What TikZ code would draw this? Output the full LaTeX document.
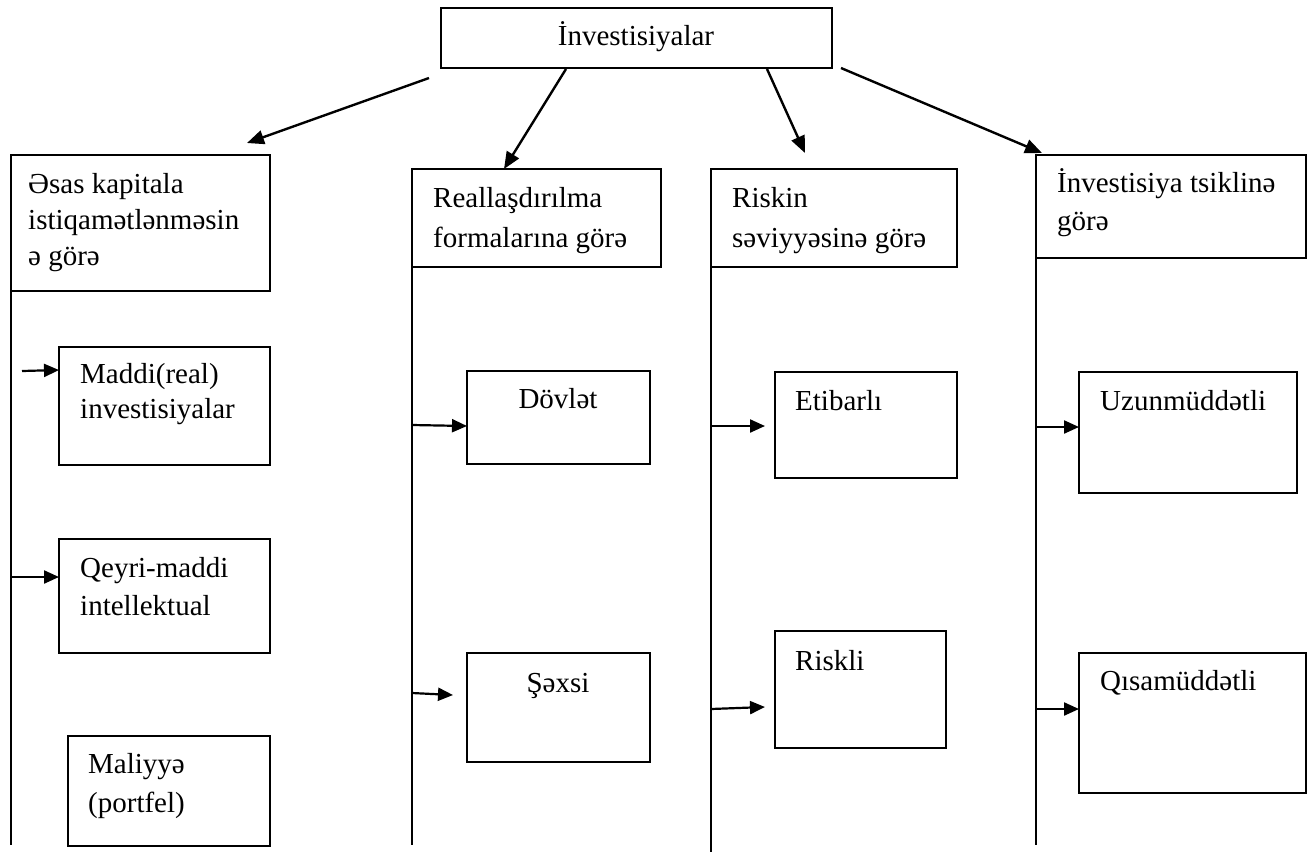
\documentclass[tikz,border=0pt]{standalone}
\usepackage{fontspec}
\setmainfont{Liberation Serif}
\usetikzlibrary{arrows.meta}
\tikzset{
  box/.style={draw, line width=1.8pt},
  txt/.style={inner sep=0pt, anchor=base west, align=left, font=\fontsize{29}{38}\selectfont},
  link/.style={line width=1.8pt},
  arr/.style={line width=2.4pt, -{Triangle[length=17pt,width=14pt]}},
  sarr/.style={line width=2.2pt, -{Triangle[length=15pt,width=13pt]}}
}
\begin{document}
\begin{tikzpicture}[x=1pt,y=-1pt]
\useasboundingbox (0,0) rectangle (1308,852);
% boxes
\draw[box] (441,8) rectangle (832,68);
\node[inner sep=0pt, anchor=base, font=\fontsize{29}{38}\selectfont] (top) at (636,45) {İnvestisiyalar};
\draw[box] (11,155) rectangle (270,291);
\draw[box] (412,169) rectangle (661,267);
\draw[box] (711,169) rectangle (957,267);
\draw[box] (1036,155) rectangle (1306,258);
\draw[box] (59,347) rectangle (270,465);
\draw[box] (59,539) rectangle (270,653);
\draw[box] (68,736) rectangle (270,846);
\draw[box] (467,371) rectangle (650,464);
\draw[box] (467,653) rectangle (650,762);
\draw[box] (775,372) rectangle (957,478);
\draw[box] (775,631) rectangle (946,748);
\draw[box] (1079,372) rectangle (1297,493);
\draw[box] (1079,653) rectangle (1306,793);
% texts (multi-line nodes are placed at the baseline of their last line)
\node[txt, font=\fontsize{29}{36}\selectfont] (t1) at (28,265) {Əsas kapitala\\istiqamətlənməsin\\ə görə};
\node[txt, font=\fontsize{29}{40}\selectfont] (t2) at (433,247) {Reallaşdırılma\\formalarına görə};
\node[txt, font=\fontsize{29}{40}\selectfont] (t3) at (732,247) {Riskin\\səviyyəsinə görə};
\node[txt] (t4) at (1057,230) {İnvestisiya tsiklinə\\görə};
\node[txt, font=\fontsize{29}{35}\selectfont] (tm) at (80,418) {Maddi(real)\\investisiyalar};
\node[txt] (tq) at (80,615) {Qeyri-maddi\\intellektual};
\node[txt, font=\fontsize{29}{39}\selectfont] (tl) at (88,812) {Maliyyə\\(portfel)};
\node[txt, anchor=base] (td) at (558,408) {Dövlət};
\node[txt, anchor=base] (ts) at (558,692) {Şəxsi};
\node[txt] (te) at (795,410) {Etibarlı};
\node[txt] (tr) at (795,670) {Riskli};
\node[txt] (tu) at (1100,410) {Uzunmüddətli};
\node[txt] (tk) at (1100,690) {Qısamüddətli};
% coordinates
\coordinate (s1) at (429,78);   \coordinate (e1) at (247,143);
\coordinate (s2) at (566,69);   \coordinate (e2) at (504,169);
\coordinate (s3) at (767,69);   \coordinate (e3) at (805,153);
\coordinate (s4) at (841,68);   \coordinate (e4) at (1042,153);
\draw[arr] (s1) -- (e1);
\draw[arr] (s2) -- (e2);
\draw[arr] (s3) -- (e3);
\draw[arr] (s4) -- (e4);
% verticals
\draw[link] (11,291) -- (11,845);
\draw[link] (412,267) -- (412,845);
\draw[link] (711,267) -- (711,852);
\draw[link] (1036,258) -- (1036,845);
% side arrows
\draw[sarr] (22,371) -- (59,370);
\draw[sarr] (11,577) -- (59,577);
\draw[sarr] (412,425) -- (467,426);
\draw[sarr] (412,693) -- (453,695);
\draw[sarr] (711,426) -- (765,426);
\draw[sarr] (711,709) -- (765,707);
\draw[sarr] (1036,427) -- (1079,427);
\draw[sarr] (1036,709) -- (1079,709);
\end{tikzpicture}
\end{document}
